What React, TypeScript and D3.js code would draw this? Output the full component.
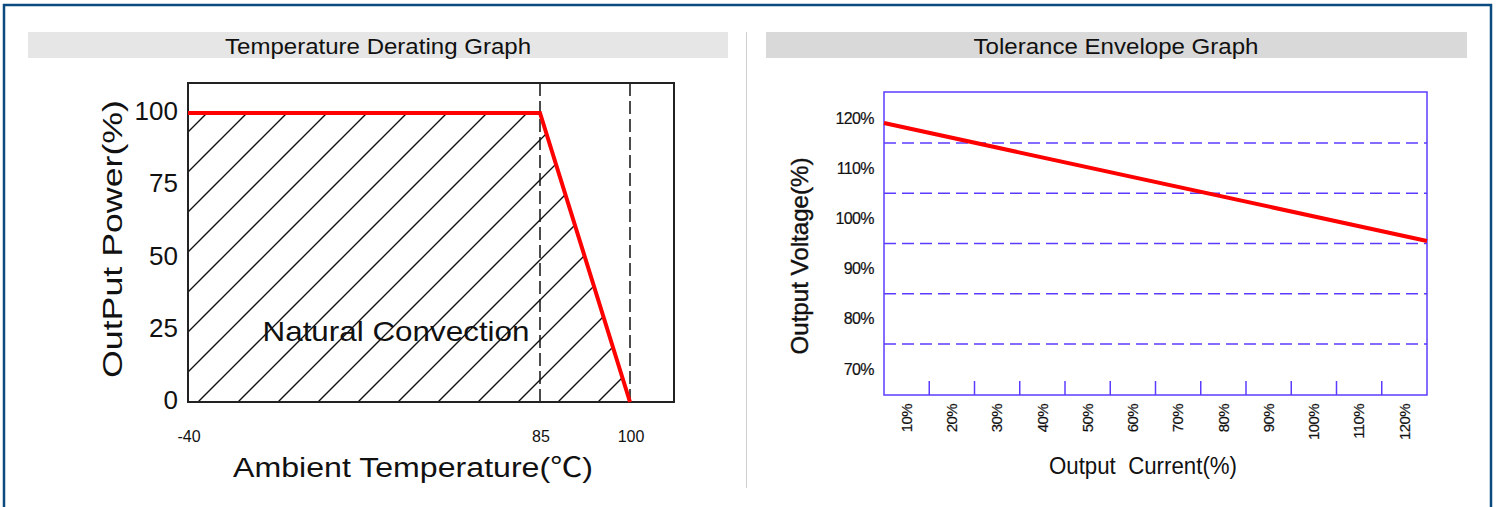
import React from 'react';
import * as d3 from 'd3';

// Temperature derating curve
const deratingTemp = [-40, 85, 100];
const deratingPower = [100, 100, 0];
const powerTicks = [0, 25, 50, 75, 100];
const tempTicks = [-40, 85, 100];
const dashedTemps = [85, 100];

// Tolerance envelope
const currentValues = [10, 20, 30, 40, 50, 60, 70, 80, 90, 100, 110, 120];
const currentLabels = ['10%', '20%', '30%', '40%', '50%', '60%', '70%', '80%', '90%', '100%', '110%', '120%'];
const voltageTicks = [70, 80, 90, 100, 110, 120];
const voltageLabels = ['70%', '80%', '90%', '100%', '110%', '120%'];
const voltageBands = [75, 85, 95, 105, 115];
const envelopeCurrent = [5, 125];
const envelopeVoltage = [119, 95.5];

const FONT = "'Liberation Sans', Arial, sans-serif";
const BLUE = '#5b3cff';

const App = () => {
  // left chart layout
  const L = { left: 188, right: 674, top: 83, bottom: 402 };
  const x = d3.scaleLinear().domain([-40, 85, 100]).range([188, 540, 630]);
  const y = d3.scaleLinear().domain([0, 100]).range([L.bottom, 113]);

  const pts = deratingTemp.map((t, i) => [t, deratingPower[i]] as [number, number]);
  const line = d3.line<[number, number]>().x(d => x(d[0])).y(d => y(d[1]));
  const area = d3.area<[number, number]>().x(d => x(d[0])).y0(y(0)).y1(d => y(d[1]));

  // right chart layout
  const R = { left: 884, right: 1427, top: 92, bottom: 395 };
  const step = currentValues[1] - currentValues[0];
  const xr = d3.scaleLinear()
    .domain([currentValues[0] - step / 2, currentValues[currentValues.length - 1] + step / 2])
    .range([R.left, R.right]);
  const yr = d3.scaleLinear().domain([70, 120]).range([369, 118]);
  const tickPos = d3.pairs(currentValues).map(([a, b]) => (a + b) / 2);
  const envPts = envelopeCurrent.map((c, i) => [c, envelopeVoltage[i]] as [number, number]);
  const envLine = d3.line<[number, number]>().x(d => xr(d[0])).y(d => yr(d[1]));

  return (
    <svg width={1499} height={507} style={{ position: 'absolute', left: 0, top: 0, background: '#fff' }}
      fontFamily={FONT}>
      <defs>
        <pattern id="hatch" patternUnits="userSpaceOnUse" width={40} height={40}>
          <path d="M0,40 L40,0 M-10,10 L10,-10 M30,50 L50,30" stroke="#111" strokeWidth={1.4} />
        </pattern>
      </defs>

      {/* outer frame */}
      <rect x={4} y={5} width={1487} height={520} fill="none" stroke="#0b4a7e" strokeWidth={2.5} />

      {/* title bars */}
      <rect x={28} y={32} width={700} height={26} fill="#e6e6e6" />
      <text x={378} y={46} dy="0.35em" textAnchor="middle" fontSize={22} textLength={306}
        lengthAdjust="spacingAndGlyphs" fill="#111">Temperature Derating Graph</text>
      <rect x={766} y={32} width={701} height={26} fill="#d9d9d9" />
      <text x={1116} y={46} dy="0.35em" textAnchor="middle" fontSize={22} textLength={285}
        lengthAdjust="spacingAndGlyphs" fill="#111">Tolerance Envelope Graph</text>

      <line x1={746.5} x2={746.5} y1={32} y2={488} stroke="#cfcfcf" strokeWidth={1} />

      {/* ---- left: derating ---- */}
      <path d={area(pts) ?? ''} fill="url(#hatch)" />
      {dashedTemps.map(t => (
        <line key={t} x1={x(t)} x2={x(t)} y1={L.top} y2={L.bottom} stroke="#111" strokeWidth={1.5}
          strokeDasharray="13,5" />
      ))}
      <rect x={L.left} y={L.top} width={L.right - L.left} height={L.bottom - L.top} fill="none"
        stroke="#222" strokeWidth={2} />
      <path d={line(pts) ?? ''} fill="none" stroke="#ff0000" strokeWidth={4} />

      {powerTicks.map(v => (
        <text key={v} x={178} y={y(v) - 2} dy="0.35em" textAnchor="end" fontSize={26} fill="#111">{v}</text>
      ))}
      {tempTicks.map(t => (
        <text key={t} x={x(t) + 1} y={436} dy="0.35em" textAnchor="middle" fontSize={16} fill="#111">{t}</text>
      ))}
      <text x={396} y={331} dy="0.35em" textAnchor="middle" fontSize={28} textLength={267}
        lengthAdjust="spacingAndGlyphs" fill="#111">Natural Convection</text>
      <text x={413} y={468} dy="0.35em" textAnchor="middle" fontSize={27} textLength={360}
        lengthAdjust="spacingAndGlyphs" fill="#111">Ambient Temperature(<tspan
          fontFamily="'Noto Sans CJK SC', sans-serif">℃</tspan>)</text>
      <text transform="translate(113,239) rotate(-90)" dy="0.35em" textAnchor="middle" fontSize={27}
        textLength={278} lengthAdjust="spacingAndGlyphs" fill="#111">OutPut Power(%)</text>

      {/* ---- right: tolerance envelope ---- */}
      {voltageBands.map(v => (
        <line key={v} x1={R.left} x2={R.right} y1={yr(v)} y2={yr(v)} stroke={BLUE} strokeWidth={1.5}
          strokeDasharray="12,6" />
      ))}
      {tickPos.map(c => (
        <line key={c} x1={xr(c)} x2={xr(c)} y1={R.bottom} y2={R.bottom - 14} stroke={BLUE} strokeWidth={1.5} />
      ))}
      <rect x={R.left} y={R.top} width={R.right - R.left} height={R.bottom - R.top} fill="none"
        stroke={BLUE} strokeWidth={1.5} />
      <path d={envLine(envPts) ?? ''} fill="none" stroke="#ff0000" strokeWidth={4} />

      {voltageTicks.map((v, i) => (
        <text key={v} x={874} y={yr(v)} dy="0.35em" textAnchor="end" fontSize={16} letterSpacing={-0.6}
          fill="#111" stroke="#111" strokeWidth={0.2}>{voltageLabels[i]}</text>
      ))}
      {currentValues.map((c, i) => (
        <text key={c} transform={`translate(${xr(c)},404) rotate(-90)`} dy="0.35em" textAnchor="end"
          fontSize={15} letterSpacing={-0.6} fill="#111" stroke="#111" strokeWidth={0.2}>{currentLabels[i]}</text>
      ))}
      <text transform="translate(800,256) rotate(-90)" dy="0.35em" textAnchor="middle" fontSize={24}
        textLength={197} lengthAdjust="spacingAndGlyphs" fill="#111" stroke="#111" strokeWidth={0.4}>
        Output Voltage(%)</text>
      <text x={1143} y={466} dy="0.35em" textAnchor="middle" fontSize={23} textLength={188}
        lengthAdjust="spacingAndGlyphs" fill="#111" style={{ whiteSpace: 'pre' }}>Output  Current(%)</text>
    </svg>
  );
};

export default App;
